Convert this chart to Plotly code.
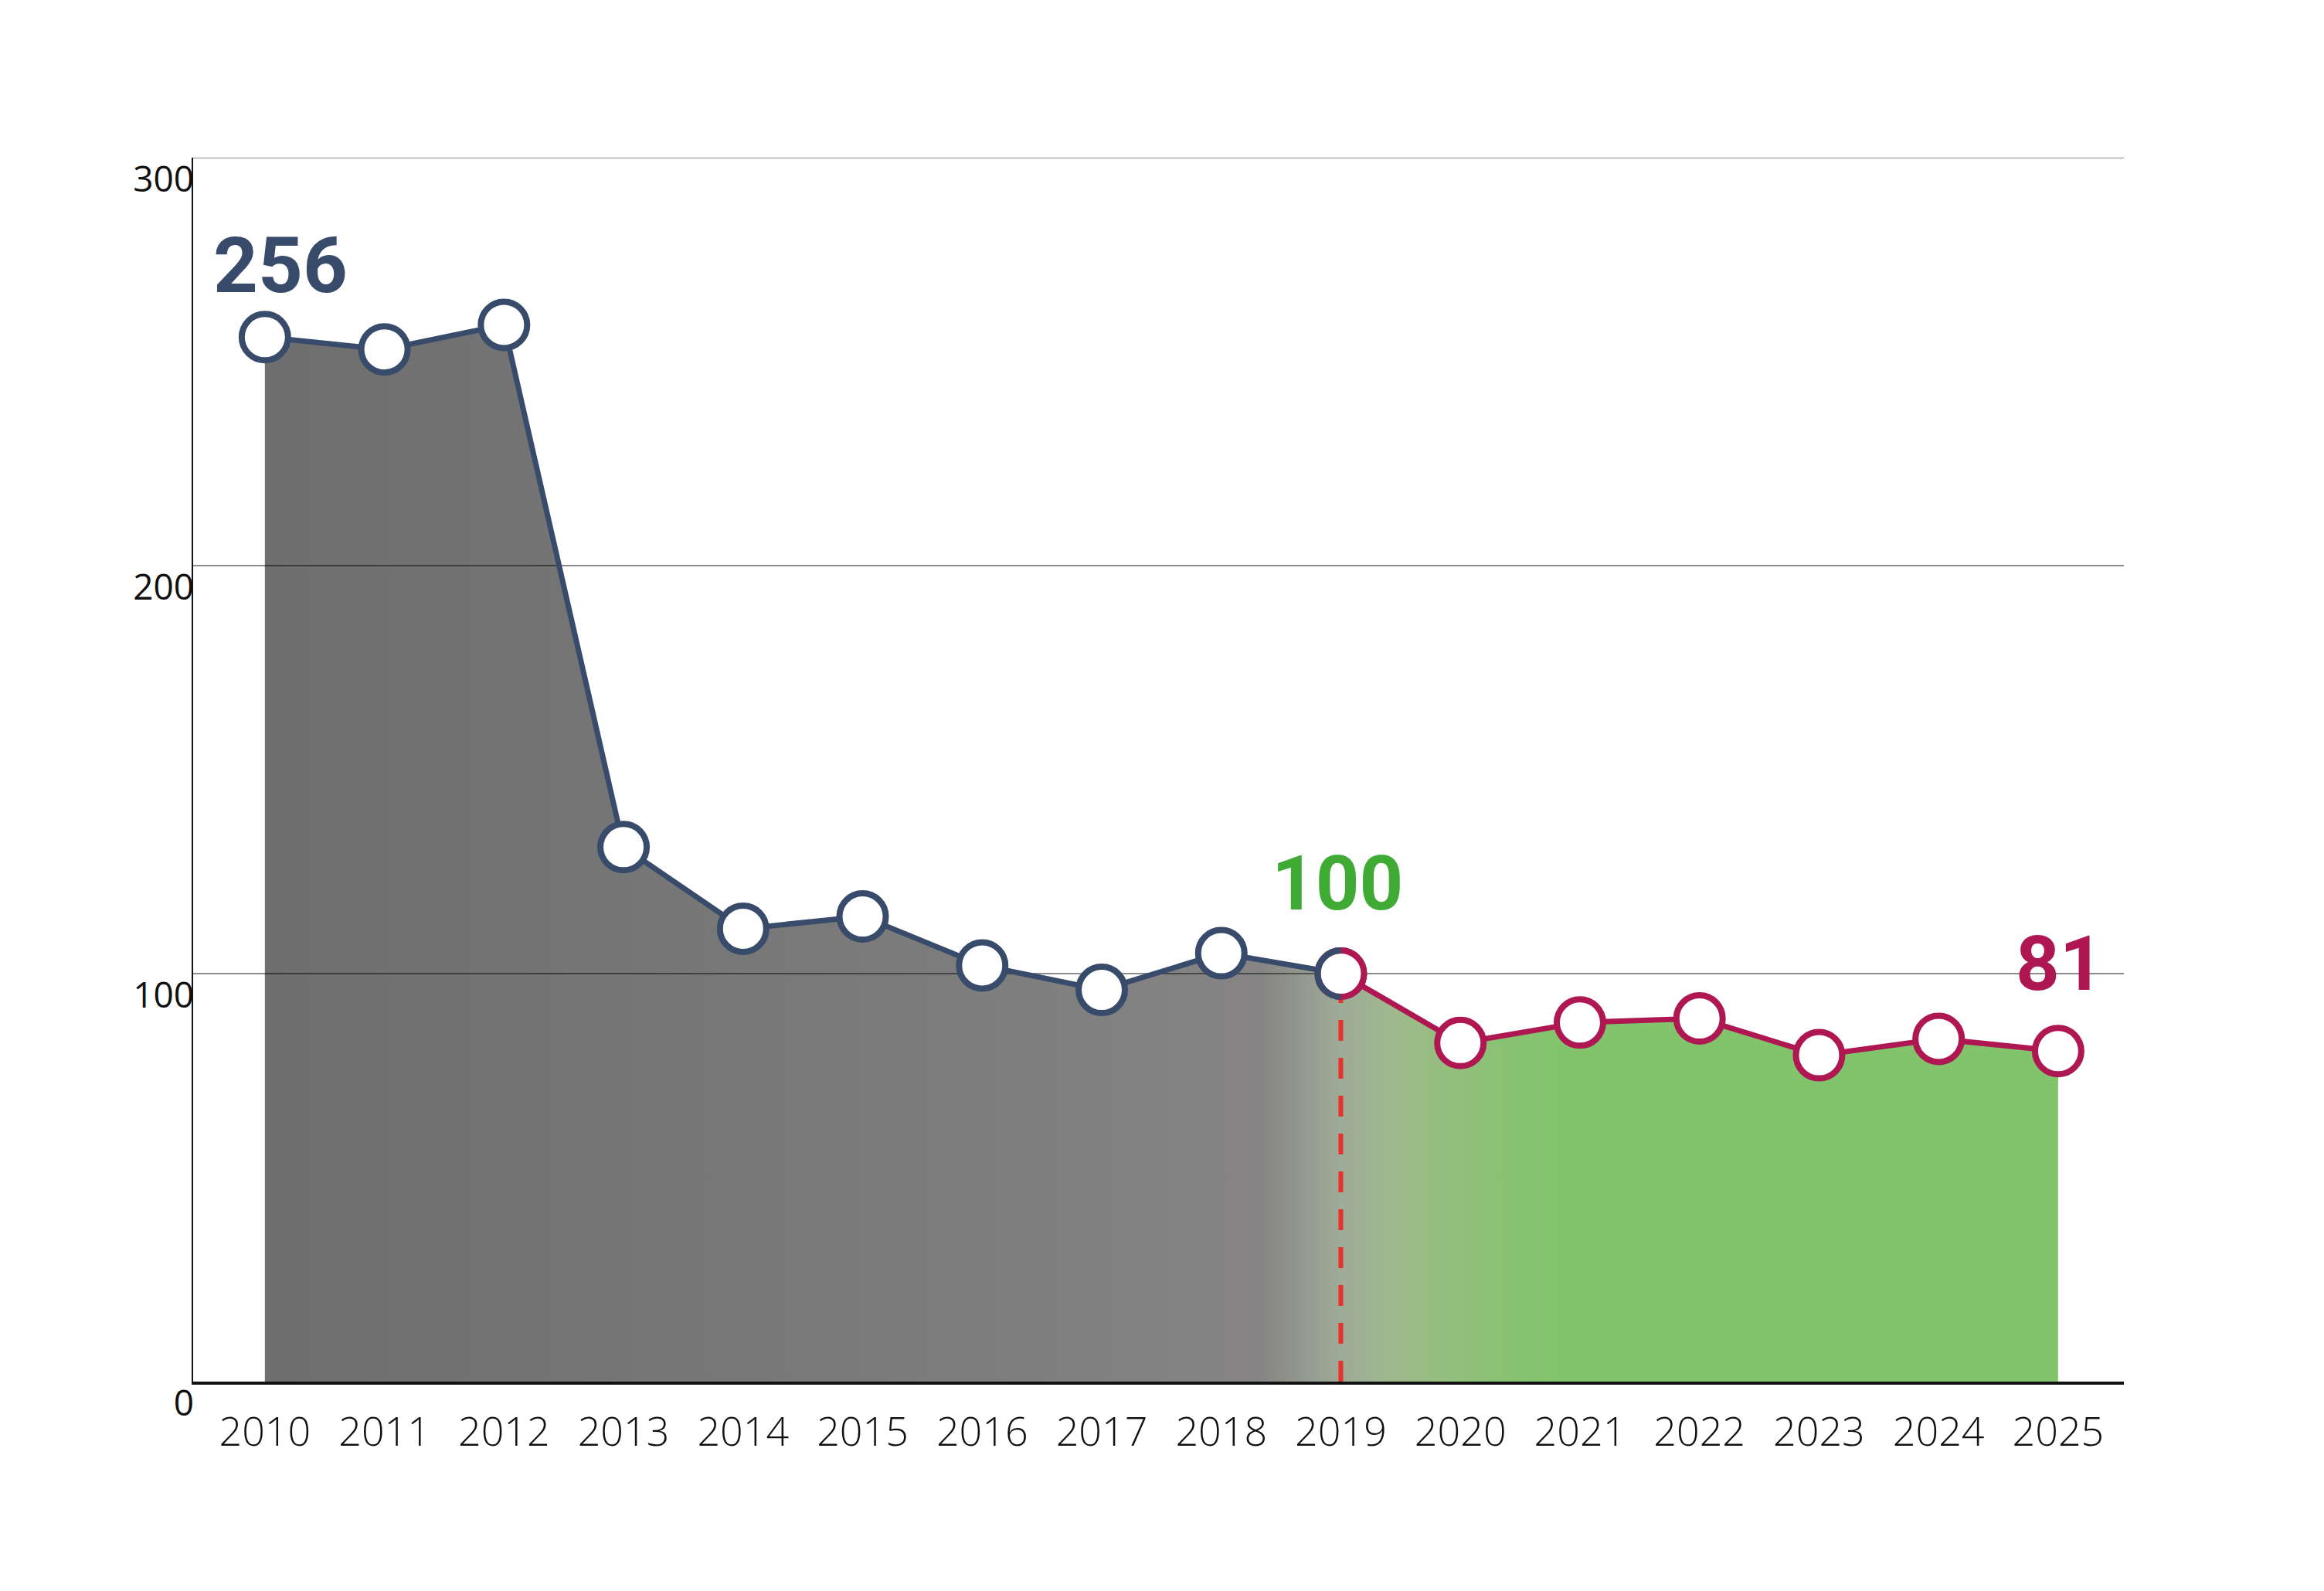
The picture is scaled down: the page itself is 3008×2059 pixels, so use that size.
import plotly.graph_objects as go

# ---- data ----
years = list(range(2010, 2026))
values = [256, 253, 259, 131, 111, 114, 102, 96, 105, 100, 83, 88, 89, 80, 84, 81]
split_year = 2019
y_ticks = [0, 100, 200, 300]
x_ticktext = [str(y) for y in years]

# ---- styles ----
NAVY = "#384b6b"
CRIMSON = "#ae1752"
GREEN_TXT = "#3fab35"
RED_DASH = "#e8312a"
GRID = "rgba(0,0,0,0.45)"
MARKER_SIZE = 60
MARKER_LW = 8
LINE_W = 7
X_RANGE = [2009.40, 2025.55]
Y_RANGE = [0, 300]

si = years.index(split_year)
hist_x, hist_y = years[: si + 1], values[: si + 1]
proj_x, proj_y = years[si:], values[si:]

fig = go.Figure()

# gradient area fill
fig.add_trace(go.Scatter(
    x=years, y=values, mode="lines", line=dict(width=0),
    fill="tozeroy",
    fillgradient=dict(
        type="horizontal", start=years[0], stop=years[-1],
        colorscale=[
            [0.0, "#6e6e6e"], [0.3, "#797979"], [0.555, "#868484"],
            [0.60, "#9eab98"], [0.63, "#9fb98d"], [0.66, "#93bf7e"],
            [0.70, "#86c270"], [0.72, "#82c46c"], [1.0, "#82c46c"],
        ],
    ),
    hoverinfo="skip", showlegend=False,
))

# gridlines drawn over the fill
for v in y_ticks[1:]:
    fig.add_trace(go.Scatter(
        x=X_RANGE, y=[v, v], mode="lines",
        line=dict(color=GRID, width=2), hoverinfo="skip", showlegend=False,
        cliponaxis=False,
    ))

# red dashed marker line at split year
fig.add_trace(go.Scatter(
    x=[split_year, split_year], y=[0, values[si]], mode="lines",
    line=dict(color=RED_DASH, width=6, dash="27px,22px"),
    hoverinfo="skip", showlegend=False,
))

# historical line
fig.add_trace(go.Scatter(
    x=hist_x, y=hist_y, mode="lines+markers",
    line=dict(color=NAVY, width=LINE_W),
    marker=dict(size=MARKER_SIZE, color="white", line=dict(color=NAVY, width=MARKER_LW)),
    showlegend=False, cliponaxis=False,
))
# projection line
fig.add_trace(go.Scatter(
    x=proj_x, y=proj_y, mode="lines+markers",
    line=dict(color=CRIMSON, width=LINE_W),
    marker=dict(size=MARKER_SIZE, color="white", line=dict(color=CRIMSON, width=MARKER_LW)),
    showlegend=False, cliponaxis=False,
))

# left half of split-year marker ring in navy
r = MARKER_SIZE / 2
k = 0.5523 * r
half_ring = (f"M 0,{r} C {-k},{r} {-r},{k} {-r},0 "
             f"C {-r},{-k} {-k},{-r} 0,{-r}")
fig.add_shape(
    type="path", xref="x", yref="y", xsizemode="pixel", ysizemode="pixel",
    xanchor=split_year, yanchor=values[si], path=half_ring,
    line=dict(color=NAVY, width=MARKER_LW), layer="above",
)

# value labels
LBL_FONT = "Roboto"
fig.add_annotation(x=years[0], y=values[0], text=str(values[0]), showarrow=False,
                   xshift=20, yshift=93, yanchor="middle",
                   font=dict(family=LBL_FONT, size=101, color=NAVY, weight=700))
fig.add_annotation(x=split_year, y=values[si], text=str(values[si]), showarrow=False,
                   xshift=-4, yshift=117, yanchor="middle",
                   font=dict(family=LBL_FONT, size=99, color=GREEN_TXT, weight=700))
fig.add_annotation(x=years[-1], y=values[-1], text=str(values[-1]), showarrow=False,
                   xshift=2, yshift=113, yanchor="middle",
                   font=dict(family=LBL_FONT, size=99, color=CRIMSON, weight=700))

fig.update_layout(
    width=3008, height=2059,
    margin=dict(l=250, r=259, t=204, b=271),
    paper_bgcolor="white", plot_bgcolor="white",
    showlegend=False,
)
fig.update_xaxes(
    range=X_RANGE, tickvals=years, ticktext=x_ticktext,
    showgrid=False, zeroline=False, showline=True, linecolor="#111111", linewidth=4,
    ticks="", ticklabelstandoff=17,
    tickfont=dict(family="Open Sans", size=52, color="#111111", weight=300),
)
fig.update_yaxes(
    range=Y_RANGE, tickvals=y_ticks, ticktext=[str(t) for t in y_ticks],
    showgrid=False, zeroline=False, showline=True, linecolor="#111111", linewidth=1.5,
    ticks="", ticklabelshift=28, ticklabelstandoff=-12,
    tickfont=dict(family="Open Sans", size=46, color="#111111"),
)

fig.write_html("out.html", config={"displayModeBar": False},
               post_script="document.body.style.margin='0';")
